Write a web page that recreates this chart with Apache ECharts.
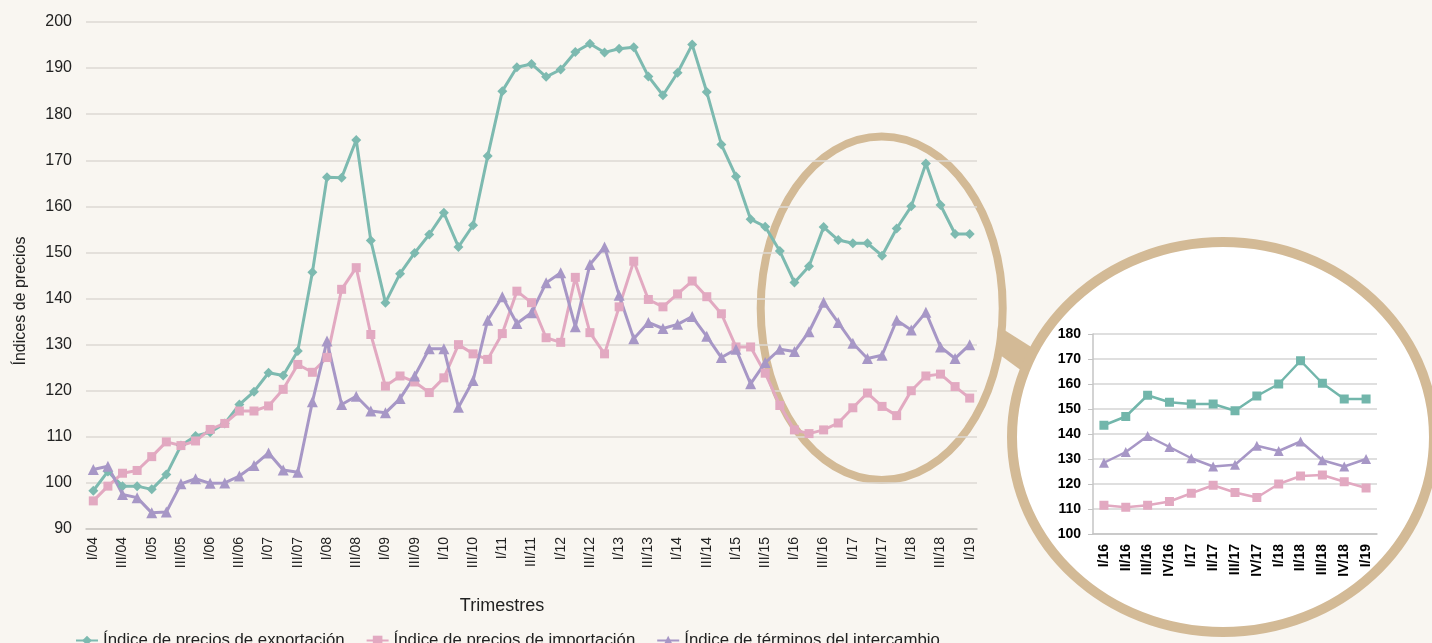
<!DOCTYPE html>
<html><head><meta charset="utf-8">
<script src="https://cdn.jsdelivr.net/npm/echarts@6/dist/echarts.min.js"></script>
<style>html,body{margin:0;padding:0;background:#f9f6f1}#c{width:1432px;height:643px}</style>
</head><body><div id="c"></div>
<script>
const quarters = [
  "I/04","II/04","III/04","IV/04","I/05","II/05","III/05","IV/05",
  "I/06","II/06","III/06","IV/06","I/07","II/07","III/07","IV/07",
  "I/08","II/08","III/08","IV/08","I/09","II/09","III/09","IV/09",
  "I/10","II/10","III/10","IV/10","I/11","II/11","III/11","IV/11",
  "I/12","II/12","III/12","IV/12","I/13","II/13","III/13","IV/13",
  "I/14","II/14","III/14","IV/14","I/15","II/15","III/15","IV/15",
  "I/16","II/16","III/16","IV/16","I/17","II/17","III/17","IV/17",
  "I/18","II/18","III/18","IV/18","I/19"
];
const exportIdx = [
  98.3,102.5,99.3,99.3,98.6,101.8,108.1,110.2,
  111.0,112.9,117.0,119.8,123.9,123.3,128.6,145.7,
  166.3,166.2,174.4,152.6,139.1,145.4,149.9,153.9,
  158.6,151.2,155.9,170.9,185.0,190.2,190.9,188.1,
  189.7,193.5,195.3,193.4,194.2,194.5,188.2,184.1,
  189.0,195.1,184.8,173.4,166.5,157.2,155.6,150.3,
  143.5,147.0,155.5,152.7,152.0,152.0,149.3,155.2,
  160.0,169.3,160.3,154.0,154.0
];
const importIdx = [
  96.1,99.3,102.1,102.7,105.7,108.9,108.1,109.1,
  111.6,112.9,115.6,115.6,116.7,120.3,125.7,124.0,
  127.2,142.0,146.7,132.2,121.0,123.2,121.9,119.6,
  122.8,130.0,128.0,126.8,132.4,141.6,139.1,131.5,
  130.5,144.6,132.6,128.0,138.2,148.1,139.8,138.2,
  141.0,143.8,140.4,136.7,129.5,129.5,123.8,116.8,
  111.5,110.7,111.5,113.0,116.3,119.5,116.6,114.6,
  120.0,123.2,123.6,120.9,118.4
];
const termsIdx = [
  102.9,103.6,97.5,96.8,93.5,93.7,99.8,100.9,
  99.9,100.0,101.5,103.8,106.5,102.8,102.3,117.6,
  130.8,117.0,118.8,115.6,115.2,118.3,123.2,129.1,
  129.1,116.4,122.2,135.3,140.4,134.6,136.9,143.4,
  145.6,133.9,147.4,151.2,140.7,131.3,134.8,133.5,
  134.4,136.1,131.8,127.2,129.0,121.5,126.1,129.0,
  128.5,132.8,139.2,134.8,130.3,127.0,127.7,135.3,
  133.2,137.0,129.5,127.0,130.0
];
const seriesNames = [
  "Índice de precios de exportación",
  "Índice de precios de importación",
  "Índice de términos del intercambio"
];
const insetStart = 48; // I/16

const C_EXP = '#7dbab0', C_IMP = '#e2a9c1', C_TOT = '#a797c6';
const TAN = '#d3ba96';
const FONT = "'Liberation Sans', Arial, sans-serif";

const chart = echarts.init(document.getElementById('c'), null, {renderer:'canvas'});

function mainLine(name, data, color, symbol, size) {
  return {
    name, type:'line', data, xAxisIndex:0, yAxisIndex:0,
    symbol, symbolSize:size, showSymbol:true, showAllSymbol:true,
    lineStyle:{color, width:3}, itemStyle:{color}, z:3
  };
}
function insetLine(name, data, color, symbol, size) {
  return {
    name, type:'line', data:data.slice(insetStart), xAxisIndex:1, yAxisIndex:1,
    symbol, symbolSize:size, showAllSymbol:true,
    lineStyle:{color, width:2.5}, itemStyle:{color}, z:5
  };
}

chart.setOption({
  backgroundColor:'#f9f6f1',
  animation:false,
  textStyle:{fontFamily:FONT},
  grid:[
    {left:86, right:455, top:22, bottom:114},
    {left:1093, right:55, top:334, bottom:109, z:5}
  ],
  xAxis:[
    {
      type:'category', gridIndex:0, data:quarters, boundaryGap:true,
      axisLine:{lineStyle:{color:'#c9c6c2', width:1.5}},
      axisTick:{interval:1, length:6, lineStyle:{color:'#c9c6c2', width:1.5}},
      axisLabel:{interval:1, rotate:90, fontSize:14, color:'#222', margin:8, fontFamily:FONT},
      splitLine:{show:false}
    },
    {
      type:'category', gridIndex:1, data:quarters.slice(insetStart), boundaryGap:true,
      axisLine:{lineStyle:{color:'#c4c4c4', width:1.5}},
      axisTick:{show:false},
      axisLabel:{interval:0, rotate:90, fontSize:14, fontWeight:'bold', color:'#000', margin:10, fontFamily:FONT},
      splitLine:{show:false}, z:5
    }
  ],
  yAxis:[
    {
      type:'value', gridIndex:0, min:90, max:200, interval:10,
      axisLine:{show:false}, axisTick:{show:false},
      axisLabel:{fontSize:16, color:'#222', margin:14, fontFamily:FONT},
      splitLine:{lineStyle:{color:'#dcd8d3', width:1.5}}
    },
    {
      type:'value', gridIndex:1, min:100, max:180, interval:10,
      axisLine:{show:true, lineStyle:{color:'#c4c4c4', width:1.5}},
      axisTick:{show:true, length:5, lineStyle:{color:'#c4c4c4'}},
      axisLabel:{fontSize:14, fontWeight:'bold', color:'#000', margin:12, fontFamily:FONT},
      splitLine:{lineStyle:{color:'#d4d4d4', width:1.5}}, z:5
    }
  ],
  legend:{
    data:seriesNames, top:627, left:70, itemGap:21, itemWidth:22, itemHeight:12,
    textStyle:{fontSize:16.8, color:'#222', fontFamily:FONT}
  },
  graphic:[
    {type:'ellipse', z:-1, shape:{cx:881.7, cy:308.3, rx:121, ry:171.7},
     style:{fill:'transparent', stroke:TAN, lineWidth:8}},
    {type:'polygon', z:-1, shape:{points:[[998,326],[1036,350],[1026,374],[996,352]]},
     style:{fill:TAN}},
    {type:'ellipse', z:-1, shape:{cx:1223, cy:437, rx:211, ry:195},
     style:{fill:'#ffffff', stroke:TAN, lineWidth:10}},
    {type:'text', x:21, y:301, rotation:Math.PI/2,
     style:{text:'Índices de precios', fontSize:16, fill:'#222', align:'center', verticalAlign:'middle', fontFamily:FONT}},
    {type:'text', x:502, y:606,
     style:{text:'Trimestres', fontSize:18, fill:'#222', align:'center', verticalAlign:'middle', fontFamily:FONT}}
  ],
  series:[
    mainLine(seriesNames[0], exportIdx, C_EXP, 'diamond', 10),
    mainLine(seriesNames[1], importIdx, C_IMP, 'rect', 9),
    mainLine(seriesNames[2], termsIdx, C_TOT, 'triangle', 11),
    insetLine(seriesNames[0], exportIdx, '#72b6ab', 'rect', 9),
    insetLine(seriesNames[1], importIdx, C_IMP, 'rect', 9),
    insetLine(seriesNames[2], termsIdx, C_TOT, 'triangle', 10)
  ]
});
</script></body></html>
